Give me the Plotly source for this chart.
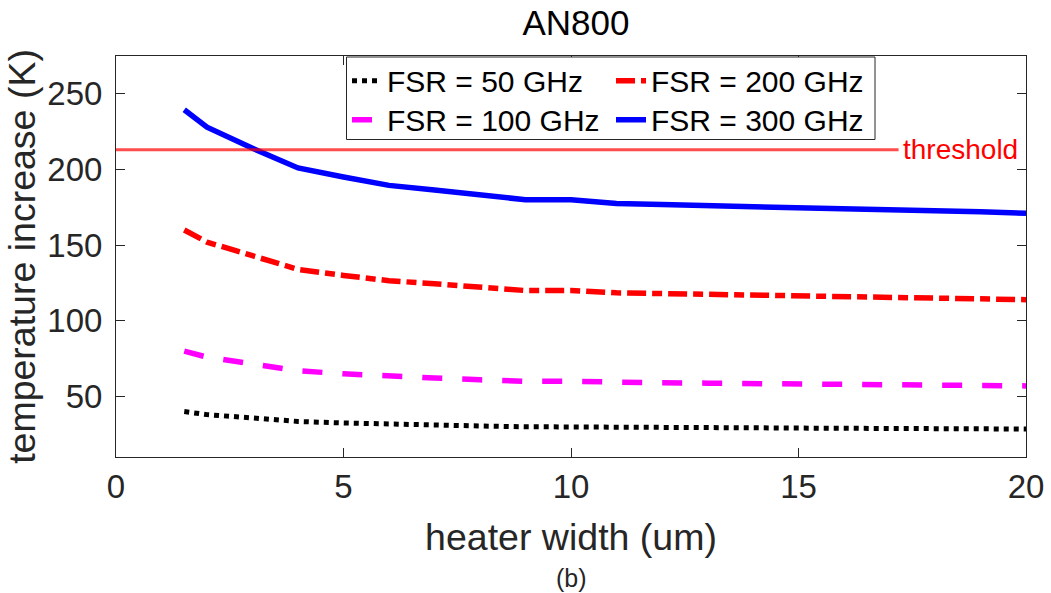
import plotly.graph_objects as go

# ---- data ----
heater_width = [1.5, 2, 3, 4, 5, 6, 7, 8, 9, 10, 11, 12, 13, 14, 15, 16, 17, 18, 19, 20]
fsr_50 = [40, 38, 35.8, 33.5, 32.5, 31.6, 31.1, 30.5, 30, 30, 29.6, 29.5, 29.4, 29.3, 29.1, 29, 28.9, 28.8, 28.7, 28.5]
fsr_100 = [80, 76, 71.5, 67, 65, 63.2, 62.2, 61, 60, 60, 59.2, 59, 58.8, 58.5, 58.3, 58, 57.8, 57.5, 57.3, 57]
fsr_200 = [160, 152, 143, 134, 130, 126.5, 124.5, 122, 120, 120, 118.5, 118, 117.5, 117, 116.5, 116, 115.5, 115, 114.7, 114]
fsr_300 = [239.5, 228, 214, 201, 195, 189.5, 186.5, 183, 180, 180, 177.5, 176.8, 176.2, 175.6, 175, 174.2, 173.5, 172.7, 172, 171]
threshold_value = 213
threshold_x = [0, 17.2]
series_names = ["FSR = 50 GHz", "FSR = 100 GHz", "FSR = 200 GHz", "FSR = 300 GHz"]
x_ticks = [0, 5, 10, 15, 20]
y_ticks = [50, 100, 150, 200, 250]

FONT = "Arial, 'Liberation Sans', Helvetica, sans-serif"
AX = "#262626"

# plot-area geometry in pixels (for paper-coordinate placement)
L, R, T, B = 116, 1026, 56, 457
PW, PH = R - L, B - T


def px(x):
    return (x - L) / PW


def py(y):
    return (B - y) / PH


fig = go.Figure()
fig.add_trace(go.Scatter(x=heater_width, y=fsr_50, mode="lines", name=series_names[0],
                         line=dict(color="black", width=5, dash="5px,5px"), legend="legend"))
fig.add_trace(go.Scatter(x=heater_width, y=fsr_100, mode="lines", name=series_names[1],
                         line=dict(color="#FF00FF", width=5.5, dash="20px,20px"), legend="legend3"))
fig.add_trace(go.Scatter(x=heater_width, y=fsr_200, mode="lines", name=series_names[2],
                         line=dict(color="#FF0000", width=5.5, dash="19px,6px,10px,6px"), legend="legend2"))
fig.add_trace(go.Scatter(x=heater_width, y=fsr_300, mode="lines", name=series_names[3],
                         line=dict(color="#0000FF", width=5.5), legend="legend4"))
fig.add_trace(go.Scatter(x=threshold_x, y=[threshold_value, threshold_value], mode="lines",
                         line=dict(color="rgba(255,0,0,0.7)", width=3), showlegend=False,
                         hoverinfo="skip"))

fig.add_annotation(x=threshold_x[1], y=threshold_value, xref="x", yref="y", text="threshold",
                   showarrow=False, xanchor="left", yanchor="middle", xshift=2,
                   font=dict(family=FONT, size=28, color="#FF0000"))
fig.add_annotation(x=px(571), y=py(578), xref="paper", yref="paper", text="(b)",
                   showarrow=False, xanchor="center", yanchor="middle",
                   font=dict(family=FONT, size=25, color="#262626"))

# legend frame
fig.add_shape(type="rect", xref="paper", yref="paper",
              x0=px(346.5), x1=px(875), y0=py(139.5), y1=py(57),
              line=dict(color="#262626", width=1), fillcolor="white", layer="above")

axis_common = dict(showline=True, linecolor=AX, linewidth=1, mirror="ticks", ticks="inside",
                   ticklen=9, tickcolor=AX, showgrid=False, zeroline=False, automargin=False,
                   tickfont=dict(family=FONT, size=33, color=AX))

legend_common = dict(xanchor="left", yanchor="middle", bgcolor="rgba(0,0,0,0)", borderwidth=0,
                     font=dict(family=FONT, size=30, color="black"), itemwidth=30, tracegroupgap=0)

fig.update_layout(
    width=1051, height=593,
    margin=dict(l=L, r=1051 - R, t=T, b=593 - B, autoexpand=False),
    paper_bgcolor="white", plot_bgcolor="white",
    title=dict(text="AN800", x=576 / 1051, xanchor="center", y=1 - 23 / 593, yanchor="middle",
               xref="container", yref="container", font=dict(family=FONT, size=35, color="black")),
    xaxis=dict(range=[0, 20], tickvals=x_ticks,
               title=dict(text="heater width (um)", font=dict(family=FONT, size=37.5, color=AX), standoff=20),
               **axis_common),
    yaxis=dict(range=[10, 275], tickvals=y_ticks, ticklabelstandoff=6,
               title=dict(text="temperature increase (K)", font=dict(family=FONT, size=37.5, color=AX), standoff=0),
               **axis_common),
    legend=dict(x=px(347), y=py(80.7), **legend_common),
    legend3=dict(x=px(347), y=py(119.7), **legend_common),
    legend2=dict(x=px(611), y=py(80.7), **legend_common),
    legend4=dict(x=px(611), y=py(119.7), **legend_common),
    showlegend=True,
)

fig.write_html("out.html")
